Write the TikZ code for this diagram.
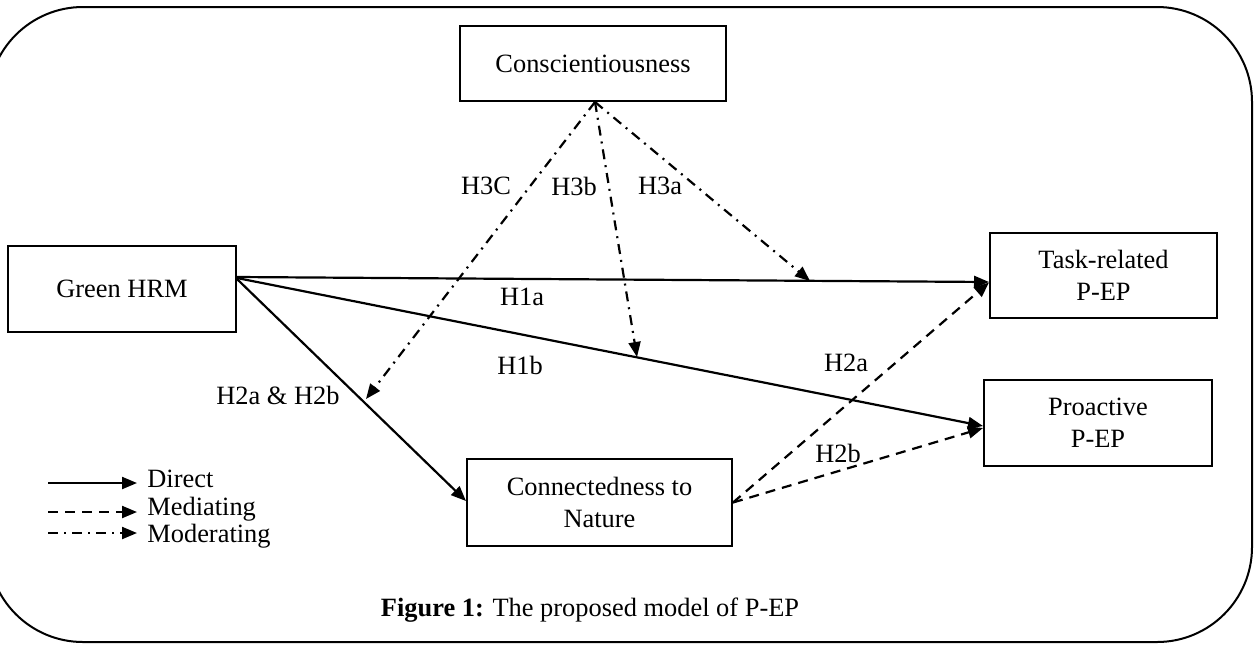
\documentclass[tikz,border=0pt]{standalone}
\usepackage{fontspec}
\setmainfont{Liberation Serif}
\usetikzlibrary{arrows.meta,calc}
\newcommand{\lblfont}{\fontsize{13.2}{16}\selectfont}
\tikzset{
  box/.style={draw, line width=1pt, inner sep=0pt, align=center, font=\lblfont},
  lab/.style={inner sep=0pt, font=\lblfont},
  direct/.style={line width=1.1pt, -{Triangle[length=7.5pt,width=6pt]}},
  mediating/.style={direct, dash pattern=on 5pt off 3.5pt},
  moderating/.style={direct, dash pattern=on 5pt off 3pt on 1pt off 3pt},
}
\begin{document}
\begin{tikzpicture}[x=0.5pt, y=-0.5pt]
\useasboundingbox (0,0) rectangle (1257,644);
\clip (0,0) rectangle (1257,644);
\draw[line width=1pt, rounded corners=47.5pt] (-12,7) rectangle (1252,642);

\node[box, minimum width=133pt, minimum height=37.5pt] (consc) at (593,63.5) {Conscientiousness};
\node[box, minimum width=114pt, minimum height=43pt] (ghrm) at (122,289) {Green HRM};
\node[box, minimum width=113.5pt, minimum height=42.5pt] (task) at (1103.5,275.5) {Task-related\\P-EP};
\node[box, minimum width=114pt, minimum height=43pt] (proa) at (1098,423) {Proactive\\P-EP};
\node[box, minimum width=132.5pt, minimum height=43.5pt] (conn) at (599.5,502.5) {Connectedness to\\Nature};

% direct
\draw[direct] ([yshift=6pt]ghrm.east) -- ([yshift=-3.25pt]task.west);
\draw[direct] ([yshift=5.5pt]ghrm.east) -- ([yshift=-1.5pt]proa.west);
\draw[direct] ([yshift=5pt]ghrm.east) -- ([yshift=0.75pt]conn.west);

% mediating
\draw[mediating] (conn.east) -- ([yshift=-3.5pt]task.west);
\draw[mediating] (conn.east) -- ([yshift=-2.5pt]proa.west);

% moderating
\coordinate (m1) at (366,399);
\coordinate (m2) at (637,357);
\coordinate (m3) at (810,281);
\draw[moderating] ([xshift=1pt]consc.south) -- (m1);
\draw[moderating] ([xshift=1pt]consc.south) -- (m2);
\draw[moderating] ([xshift=1pt]consc.south) -- (m3);

% labels
\node[lab] (h1a) at (522,297) {H1a};
\node[lab] (h1b) at (520,365) {H1b};
\node[lab] (h2ab) at (278,395) {H2a \& H2b};
\node[lab] (h2a) at (846,363) {H2a};
\node[lab] (h2b) at (838,453) {H2b};
\node[lab] (h3c) at (486,186) {H3C};
\node[lab] (h3b) at (574,186) {H3b};
\node[lab] (h3a) at (660,186) {H3a};

% legend
\begin{scope}
\clip (0,0) rectangle (420,548);
\coordinate (l1s) at (48,483);
\coordinate (l1e) at (137,483);
\coordinate (l2s) at (48,512);
\coordinate (l2e) at (137,512);
\coordinate (l3s) at (48,533);
\coordinate (l3e) at (137,533);
\draw[direct] (l1s) -- (l1e);
\draw[mediating] (l2s) -- (l2e);
\draw[moderating] (l3s) -- (l3e);
\node[lab, anchor=base west] (ld) at (147,487) {Direct};
\node[lab, anchor=base west] (lme) at (147,515) {Mediating};
\node[lab, anchor=base west] (lmo) at (147,542) {Moderating};
\end{scope}

\node[lab] (cap) at (590,610) {\textbf{Figure 1:} The proposed model of P-EP};
\end{tikzpicture}
\end{document}
